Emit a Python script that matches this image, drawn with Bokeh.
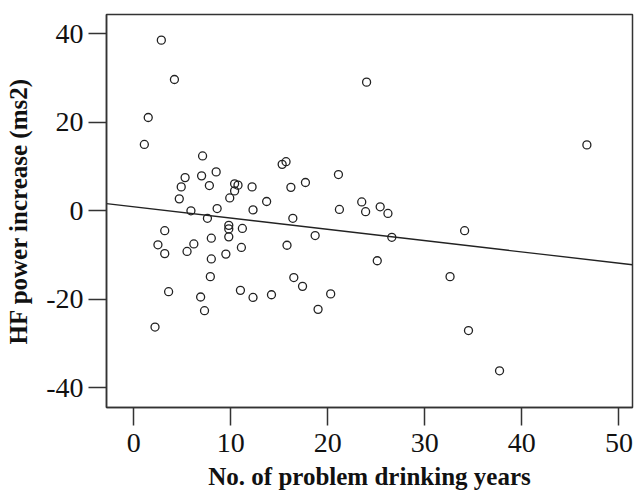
from bokeh.plotting import figure
from bokeh.models import Range1d, FixedTicker, ColumnDataSource
from bokeh.embed import file_html
from bokeh.resources import INLINE

# Data
drinking_years = [2.85, 4.2, 1.5, 1.1, 24.0, 46.7, 7.1, 5.3, 7.0, 8.5,
                  4.9, 7.8, 10.4, 10.75, 10.4, 4.7, 9.9, 5.9, 8.6, 7.6,
                  3.2, 9.8, 9.8, 11.2, 8.0, 9.8, 2.5, 6.2, 3.2, 5.5,
                  8.0, 9.5, 11.1, 7.9, 3.6, 6.9, 11.0, 7.3, 2.2, 12.3,
                  14.2, 15.8, 16.4, 16.5, 17.4, 18.7, 19.0, 20.3, 21.2, 23.5,
                  23.9, 12.3, 13.7, 15.3, 15.7, 21.1, 12.2, 16.2, 17.7, 25.4,
                  26.2, 26.6, 34.1, 25.1, 32.6, 34.5, 37.7]
hf_increase = [38.6, 29.7, 21.1, 15.0, 29.1, 14.9, 12.4, 7.5, 7.9, 8.8,
               5.4, 5.7, 6.1, 5.8, 4.5, 2.7, 2.9, 0.0, 0.5, -1.7,
               -4.5, -3.3, -4.1, -4.0, -6.2, -5.9, -7.7, -7.5, -9.7, -9.2,
               -10.9, -9.8, -8.3, -14.9, -18.3, -19.5, -18.0, -22.6, -26.3, -19.6,
               -19.0, -7.8, -1.7, -15.1, -17.1, -5.6, -22.3, -18.8, 0.3, 2.0,
               -0.2, 0.2, 2.1, 10.5, 11.1, 8.2, 5.4, 5.3, 6.4, 0.9,
               -0.6, -6.0, -4.5, -11.3, -14.9, -27.1, -36.2]

fit_intercept = 0.9
fit_slope = -0.255

x_ticks = [0, 10, 20, 30, 40, 50]
x_tick_labels = ["0", "10", "20", "30", "40", "50"]
y_ticks = [-40, -20, 0, 20, 40]
y_tick_labels = ["-40", "-20", "0", "20", "40"]

x_title = "No. of problem drinking years"
y_title = "HF power increase (ms2)"

x_lo, x_hi = -2.8, 51.4
y_lo, y_hi = -44.5, 44.4

p = figure(frame_width=526, frame_height=393,
           x_range=Range1d(x_lo, x_hi), y_range=Range1d(y_lo, y_hi),
           output_backend="svg", toolbar_location=None,
           min_border_left=106, min_border_right=10,
           min_border_top=14, min_border_bottom=87,
           background_fill_color="white", border_fill_color="white")

p.outline_line_color = "#333333"
p.outline_line_width = 1.5
p.grid.visible = False

src = ColumnDataSource(dict(x=drinking_years, y=hf_increase))
p.scatter("x", "y", source=src, marker="circle", size=8,
          fill_color=None, line_color="#222222", line_width=1.3)

line_x = [x_lo, x_hi]
line_y = [fit_intercept + fit_slope * v for v in line_x]
p.line(line_x, line_y, line_color="#222222", line_width=1.3)

for ax, ticks, labels in ((p.xaxis[0], x_ticks, x_tick_labels),
                          (p.yaxis[0], y_ticks, y_tick_labels)):
    ax.ticker = FixedTicker(ticks=ticks)
    ax.major_label_overrides = {t: l for t, l in zip(ticks, labels)}
    ax.minor_tick_line_color = None
    ax.major_tick_in = 0
    ax.major_tick_out = 18
    ax.major_tick_line_color = "#333333"
    ax.major_tick_line_width = 1.5
    ax.axis_line_color = "#333333"
    ax.axis_line_width = 1.5
    ax.major_label_text_font = "Liberation Serif"
    ax.major_label_text_font_size = "28px"
    ax.major_label_text_color = "#111111"
    ax.axis_label_text_font = "Liberation Serif"
    ax.axis_label_text_font_size = "25px"
    ax.axis_label_text_font_style = "bold"
    ax.axis_label_text_color = "#111111"

p.xaxis[0].major_label_standoff = 8
p.yaxis[0].major_label_standoff = 5
p.xaxis[0].axis_label = x_title
p.yaxis[0].axis_label = y_title
p.xaxis[0].axis_label_standoff = 8
p.yaxis[0].axis_label_standoff = 11

open("out.html", "w").write(file_html(p, INLINE))
